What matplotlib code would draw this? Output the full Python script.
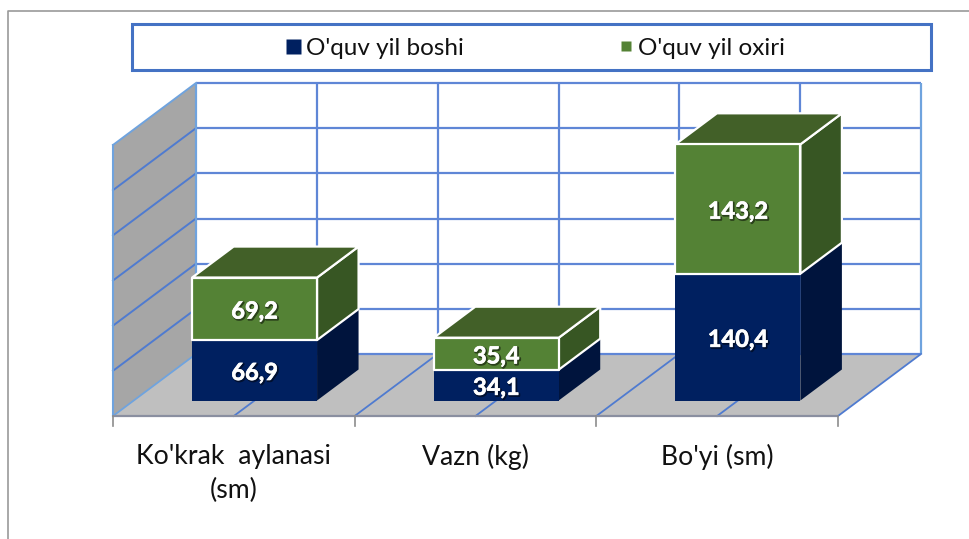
import matplotlib
matplotlib.use("Agg")
import matplotlib.pyplot as plt
import matplotlib.patheffects as pe
from matplotlib.patches import Polygon, Rectangle
from matplotlib.lines import Line2D

categories = ["Ko'krak  aylanasi\n(sm)", "Vazn (kg)", "Bo'yi (sm)"]
series_names = ["O'quv yil boshi", "O'quv yil oxiri"]
start_values = [66.9, 34.1, 140.4]
end_values = [69.2, 35.4, 143.2]
label_start = ["66,9", "34,1", "140,4"]
label_end = ["69,2", "35,4", "143,2"]
y_max = 300
y_step = 50

W, H = 970, 539
X0, Y0 = 113, 416      # pixel of front-left floor corner
PX_CAT = 241.67        # pixels per category
PX_VAL = 271 / y_max   # pixels per value unit
DX = 83 / PX_CAT       # depth shift in category units
DY = 62 / PX_VAL       # depth shift in value units
BAR_W = 0.517
Z0, Z1 = 0.25, 0.75

BLUE = "#002060"; BLUE_SIDE = "#00143D"
GREEN = "#548235"; GREEN_SIDE = "#375623"; GREEN_TOP = "#426028"
GRID = "#5F86D6"; EDGE = "#6FA3DE"

plt.rcParams["font.family"] = ["Lato", "DejaVu Sans"]
fig = plt.figure(figsize=(W / 100, H / 100), dpi=100)
ax = fig.add_axes([0, 0, 1, 1])
ax.set_xlim(-X0 / PX_CAT, (W - X0) / PX_CAT)
ax.set_ylim((Y0 - H) / PX_VAL, Y0 / PX_VAL)
ax.axis("off")
n = len(categories)


def p(x, v, z=0.0):
    return (x + z * DX, v + z * DY)


def face(pts, **kw):
    ax.add_patch(Polygon(pts, closed=True, **kw))


# outer chart frame
fig.add_artist(Line2D([8 / W, 8 / W, 1], [0, 1 - 11 / H, 1 - 11 / H],
                      color="#9A9A9A", lw=1.2))

# floor and wall
face([p(0, 0), p(n, 0), p(n, 0, 1), p(0, 0, 1)], fc="#BFBFBF", ec="none", zorder=1)
face([p(0, 0), p(0, y_max), p(0, y_max, 1), p(0, 0, 1)], fc="#A6A6A6", ec="none", zorder=1)

# grid
levels = list(range(0, y_max + 1, y_step))
for v in levels:
    ax.plot(*zip(p(0, v, 1), p(n, v, 1)), color=GRID, lw=1.6, zorder=2, solid_capstyle="butt")
    if v:
        ax.plot(*zip(p(0, v), p(0, v, 1)), color="#4F7BD0" if v < y_max else EDGE, lw=1.4, zorder=2)
for i in range(2 * n + 1):
    x = i / 2
    ax.plot(*zip(p(x, 0, 1), p(x, y_max, 1)),
            color=EDGE if i in (0, 2 * n) else GRID, lw=1.6, zorder=2, solid_capstyle="butt")
    if 0 < i:
        ax.plot(*zip(p(x, 0), p(x, 0, 1)), color="#4F7BD0", lw=1.3, zorder=2)
ax.plot(*zip(p(0, 0), p(0, 0, 1)), color=EDGE, lw=1.3, zorder=2)
ax.plot(*zip(p(0, 0), p(0, y_max)), color=EDGE, lw=1.5, zorder=2)

# front floor line and ticks
ax.plot(*zip(p(0, 0), p(n, 0)), color="#8A8FA0", lw=1.6, zorder=3, solid_capstyle="butt")
tick_len = 10 / PX_VAL
for i in range(n + 1):
    ax.plot([i, i], [0, -tick_len], color="#8C8C8C", lw=1.2, zorder=3)


def box(xc, v0, v1, front, side, top, edge, lw, z):
    a, b = xc - BAR_W / 2, xc + BAR_W / 2
    kw = dict(ec=edge, lw=lw, joinstyle="round", zorder=z)
    face([p(b, v0, Z0), p(b, v0, Z1), p(b, v1, Z1), p(b, v1, Z0)], fc=side, **kw)
    face([p(a, v1, Z0), p(b, v1, Z0), p(b, v1, Z1), p(a, v1, Z1)], fc=top, **kw)
    face([p(a, v0, Z0), p(b, v0, Z0), p(b, v1, Z0), p(a, v1, Z0)], fc=front, **kw)


text_fx = [pe.SimpleLineShadow(offset=(0.8, -0.8), shadow_color="black", alpha=0.5, linewidth=1.5),
           pe.withStroke(linewidth=0.5, foreground="white")]

for i in range(n):
    xc = i + 0.5
    s, e = start_values[i], end_values[i]
    box(xc, 0, s, BLUE, BLUE_SIDE, BLUE, "none", 0, 4)
    box(xc, s, s + e, GREEN, GREEN_SIDE, GREEN_TOP, "white", 1.6, 5)
    for v, lab in ((s / 2, label_start[i]), (s + e / 2, label_end[i])):
        ax.annotate(lab, xy=p(xc, v, Z0), xytext=(0, -1.6), textcoords="offset points",
                    color="white", fontsize=17, fontweight="bold", ha="center", va="center",
                    zorder=7, path_effects=text_fx)
    ax.annotate(categories[i], xy=(xc, 0), xycoords="data", xytext=(0, -20), textcoords="offset points",
                ha="center", va="top", fontsize=19.2, color="#111111", linespacing=1.45, zorder=7)

# legend box
fig.add_artist(Rectangle((132 / W, 1 - 70 / H), (931 - 132) / W, 46 / H, transform=fig.transFigure,
                         fc="white", ec="#4472C4", lw=2.2))
handles = [
    Line2D([], [], ls="", marker="s", ms=10.8, color=BLUE, mec="none"),
    Line2D([], [], ls="", marker="s", ms=7.4, color=GREEN, mec="none"),
]
leg = fig.legend(handles, series_names, loc="center", bbox_to_anchor=(534 / W, 1 - 48 / H), ncol=2,
                 frameon=False, fontsize=17.5, handlelength=0.9, handletextpad=0.05, columnspacing=6.25,
                 labelcolor="#111111")

fig.savefig("out.png", dpi=100)
